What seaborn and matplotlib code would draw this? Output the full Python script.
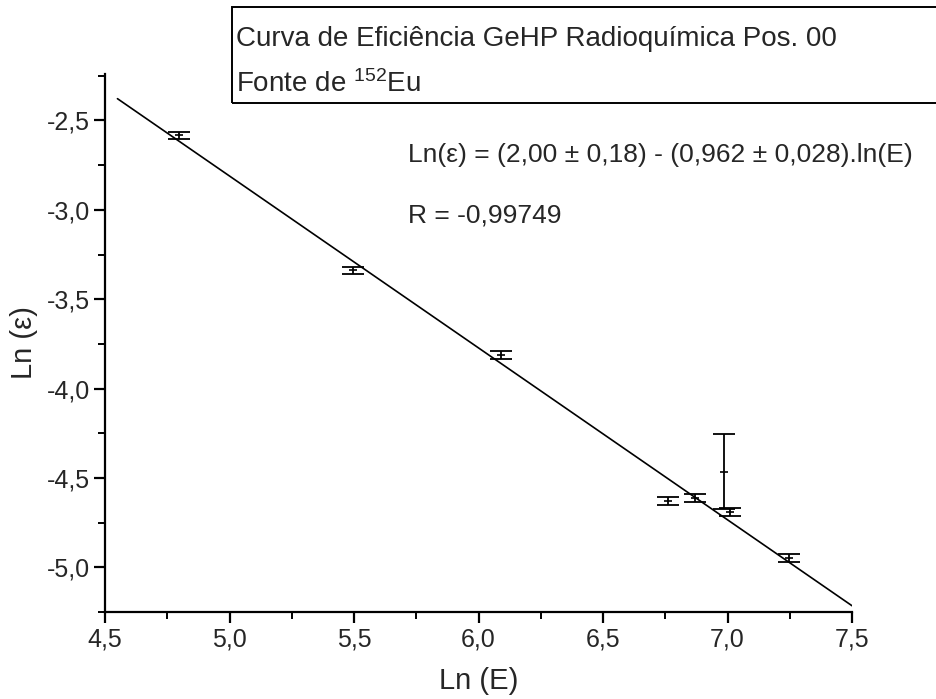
import matplotlib
matplotlib.use("Agg")
import matplotlib.pyplot as plt
import seaborn as sns
import pandas as pd
from matplotlib.patches import Rectangle
from matplotlib.ticker import MultipleLocator, FuncFormatter

# ---- data ----
ln_E = [4.797, 5.496, 6.090, 6.761, 6.869, 6.986, 7.010, 7.247]
ln_eff = [-2.584, -3.338, -3.813, -4.628, -4.612, -4.466, -4.690, -4.947]
err = [0.022, 0.020, 0.022, 0.022, 0.022, 0.210, 0.022, 0.022]

fit_x = [4.55, 7.50]
fit_y = [-2.378, -5.215]

title_line1 = "Curva de Eficiência GeHP Radioquímica Pos. 00"
title_line2 = "Fonte de $^{152}$Eu"
eq_text = "Ln(ε) = (2,00 ± 0,18) - (0,962 ± 0,028).ln(E)"
r_text = "R = -0,99749"
x_label = "Ln (E)"
y_label = "Ln (ε)"

sns.set_theme(style="white")
plt.rcParams["font.family"] = ["Liberation Sans", "DejaVu Sans"]
plt.rcParams["mathtext.fontset"] = "custom"
plt.rcParams["mathtext.rm"] = "Liberation Sans"
plt.rcParams["mathtext.it"] = "Liberation Sans"

fig = plt.figure(figsize=(9.36, 6.99), dpi=100)
ax = fig.add_axes([105 / 936, 1 - 612 / 699, (852 - 105) / 936, (612 - 74) / 699])

df = pd.DataFrame({"x": ln_E, "y": ln_eff, "e": err})
fit_df = pd.DataFrame({"x": fit_x, "y": fit_y})

sns.lineplot(data=fit_df, x="x", y="y", ax=ax, color="black", lw=1.2)
ax.errorbar(df["x"], df["y"], yerr=df["e"], fmt="none", ecolor="black",
            elinewidth=1.3, capsize=8, capthick=1.3)
sns.scatterplot(data=df, x="x", y="y", ax=ax, marker="_", s=40,
                color="black", linewidth=1.2)

ax.set_xlim(4.5, 7.5)
ax.set_ylim(-5.25, -2.24)
ax.xaxis.set_major_locator(MultipleLocator(0.5))
ax.xaxis.set_minor_locator(MultipleLocator(0.25))
ax.yaxis.set_major_locator(MultipleLocator(0.5))
ax.yaxis.set_minor_locator(MultipleLocator(0.25))
fmt = FuncFormatter(lambda v, p: f"{v:.1f}".replace(".", ","))
ax.xaxis.set_major_formatter(fmt)
ax.yaxis.set_major_formatter(fmt)

for s in ["top", "right"]:
    ax.spines[s].set_visible(False)
for s in ["left", "bottom"]:
    ax.spines[s].set_color("black")
    ax.spines[s].set_linewidth(1.6)

ax.tick_params(axis="both", which="major", direction="out", length=8, width=1.6,
               labelsize=18, color="black", pad=3, bottom=True, left=True)
ax.tick_params(axis="both", which="minor", direction="out", length=5, width=1.4,
               color="black", bottom=True, left=True)

ax.set_xlabel(x_label, fontsize=21, labelpad=11)
ax.set_ylabel(y_label, fontsize=21, labelpad=6)

fig.text(408 / 936, 1 - 155 / 699, eq_text, fontsize=19, va="center", ha="left")
fig.text(408 / 936, 1 - 216 / 699, r_text, fontsize=19, va="center", ha="left")

# boxed title
fig.patches.append(Rectangle((232 / 936, 1 - 103 / 699), 0.8, (103 - 7) / 699,
                             transform=fig.transFigure, fill=False,
                             edgecolor="black", linewidth=1.4))
fig.text(236 / 936, 1 - 39 / 699, title_line1, fontsize=20, va="center", ha="left")
fig.text(236 / 936, 1 - 84 / 699, title_line2, fontsize=20, va="center", ha="left")

fig.savefig("out.png", dpi=100)
